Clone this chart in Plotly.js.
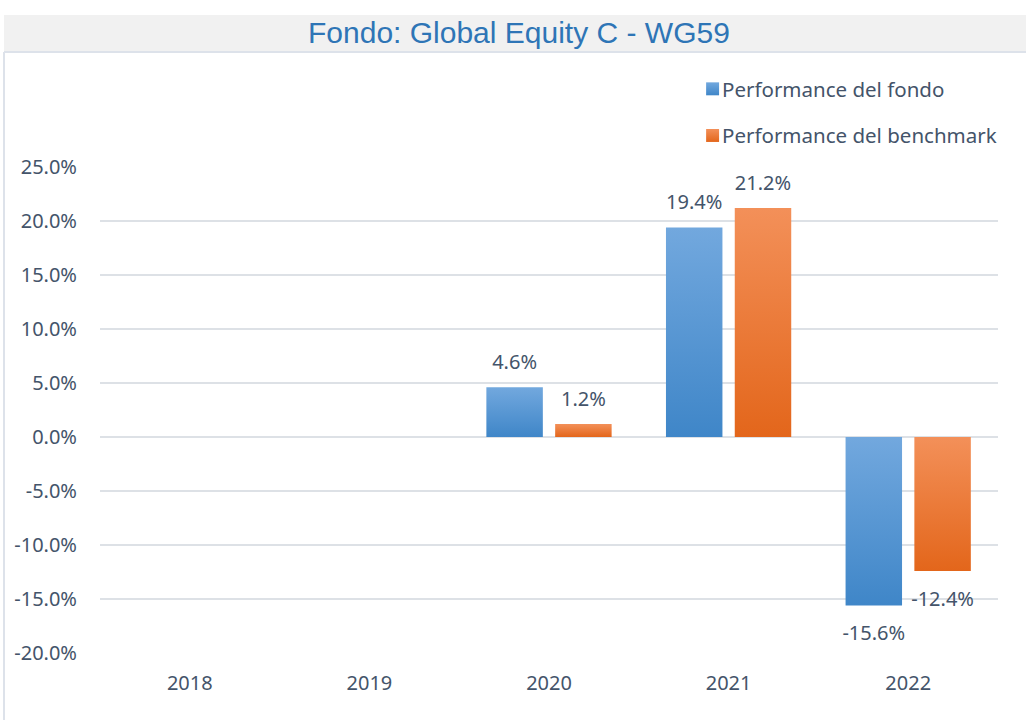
<!DOCTYPE html>
<html>
<head>
<meta charset="utf-8">
<script src="https://cdn.plot.ly/plotly-3.0.1.min.js"></script>
<style>html,body{margin:0;padding:0;background:#fff;}#chart{width:1026px;height:720px;}</style>
</head>
<body>
<div id="chart"></div>
<script>
const years = ['2018', '2019', '2020', '2021', '2022'];
const fundPerf = [null, null, 4.6, 19.4, -15.6];
const benchPerf = [null, null, 1.2, 21.2, -12.4];
const seriesNames = ['Performance del fondo', 'Performance del benchmark'];
const tickVals = [-20, -15, -10, -5, 0, 5, 10, 15, 20, 25];
const chartTitle = 'Fondo: Global Equity C - WG59';

const textColor = '#44546a';
const baseFont = 'Noto Sans, Open Sans, sans-serif';

const traces = [
  {type: 'bar', name: seriesNames[0], x: years, y: fundPerf,
   marker: {color: '#5a9bd8'}, texttemplate: '%{y:.1f}%', textposition: 'outside',
   constraintext: 'none',
   textfont: {size: 20, color: textColor, family: baseFont}, cliponaxis: false,
   legendgroup: 'a', hoverinfo: 'skip'},
  {type: 'bar', name: seriesNames[1], x: years, y: benchPerf,
   marker: {color: '#ee7b30'}, texttemplate: '%{y:.1f}%', textposition: 'outside',
   constraintext: 'none',
   textfont: {size: 20, color: textColor, family: baseFont}, cliponaxis: false,
   legendgroup: 'b', hoverinfo: 'skip'}
];

// plot area: x 100..998, y 167..653
const L = 100, R = 998, T = 167, B = 653, W = 1026, H = 720;
const pw = R - L, ph = B - T;
const px = v => (v - L) / pw;
const py = v => (B - v) / ph;

const layout = {
  width: W, height: H,
  margin: {l: L, r: W - R, t: T, b: H - B, pad: 0},
  paper_bgcolor: '#ffffff', plot_bgcolor: '#ffffff',
  font: {family: baseFont, color: textColor, size: 20},
  barmode: 'group', bargap: 0.234, bargroupgap: 0.179,
  showlegend: true,
  legend: {x: px(682), y: py(69), xanchor: 'left', yanchor: 'top',
           font: {size: 20.5, color: textColor, family: baseFont},
           traceorder: 'grouped', tracegroupgap: 17, bgcolor: 'rgba(0,0,0,0)'},
  xaxis: {type: 'category', showgrid: false, zeroline: false, showline: false,
          ticks: '', ticklabelstandoff: 16,
          tickfont: {size: 20, color: textColor, family: baseFont}, fixedrange: true},
  yaxis: {range: [-20, 25], tickvals: tickVals, ticktext: tickVals.map(v => v.toFixed(1) + '%'),
          showgrid: true, gridcolor: '#dde1e6', gridwidth: 2, zeroline: true,
          zerolinecolor: '#dde1e6', zerolinewidth: 2, showline: false, ticks: '',
          ticklabelstandoff: 22,
          tickfont: {size: 20, color: textColor, family: baseFont}, fixedrange: true},
  shapes: [
    {type: 'rect', xref: 'paper', yref: 'paper', x0: px(4), x1: px(1026), y0: py(51), y1: py(15),
     fillcolor: '#f1f1f1', line: {width: 0}, layer: 'below'},
    {type: 'line', xref: 'paper', yref: 'paper', x0: px(4), x1: px(1026), y0: py(52), y1: py(52),
     line: {color: '#dde2ea', width: 2}},
    {type: 'line', xref: 'paper', yref: 'paper', x0: px(4), x1: px(4), y0: py(52), y1: py(720),
     line: {color: '#dde2ea', width: 2}}
  ],
  annotations: [
    {text: chartTitle, xref: 'paper', yref: 'paper', x: px(519), y: py(32),
     xanchor: 'center', yanchor: 'middle', showarrow: false,
     font: {size: 30, color: '#2e75b6', family: 'Liberation Sans, Arial, sans-serif'}}
  ]
};

Plotly.newPlot('chart', traces, layout, {staticPlot: true, displayModeBar: false}).then(gd => {
  const svg = gd.querySelector('svg.main-svg');
  const ns = 'http://www.w3.org/2000/svg';
  let defs = svg.querySelector('defs');
  if (!defs) { defs = document.createElementNS(ns, 'defs'); svg.insertBefore(defs, svg.firstChild); }
  const grads = [['gBlue', '#72a8de', '#3f86c8'], ['gOrange', '#f39059', '#e3661b']];
  grads.forEach(([id, c1, c2]) => {
    const g = document.createElementNS(ns, 'linearGradient');
    g.setAttribute('id', id); g.setAttribute('x1', '0'); g.setAttribute('y1', '0');
    g.setAttribute('x2', '0'); g.setAttribute('y2', '1');
    [[0, c1], [1, c2]].forEach(([o, c]) => {
      const s = document.createElementNS(ns, 'stop');
      s.setAttribute('offset', o); s.setAttribute('stop-color', c);
      g.appendChild(s);
    });
    defs.appendChild(g);
  });
  gd.querySelectorAll('.barlayer .trace').forEach((t, i) => {
    t.querySelectorAll('.point').forEach(pt => {
      const p = pt.querySelector('path');
      if (p) p.style.fill = 'url(#' + grads[i][0] + ')';
      const d = pt.__data__;
      const tx = pt.querySelector('text');
      if (tx && d && typeof d.s === 'number') {
        const dy = d.s >= 0 ? -9 : 11;
        const tr = tx.getAttribute('transform') || '';
        tx.setAttribute('transform', 'translate(0,' + dy + ') ' + tr);
      }
    });
  });
  gd.querySelectorAll('.legend .traces').forEach((t, i) => {
    t.querySelectorAll('.legendpoints path').forEach(p => { p.style.fill = 'url(#' + grads[i][0] + ')'; });
    const lp = t.querySelector('.legendpoints');
    if (lp) lp.setAttribute('transform', 'translate(9,0) scale(1.08)');
  });
});
</script>
</body>
</html>
